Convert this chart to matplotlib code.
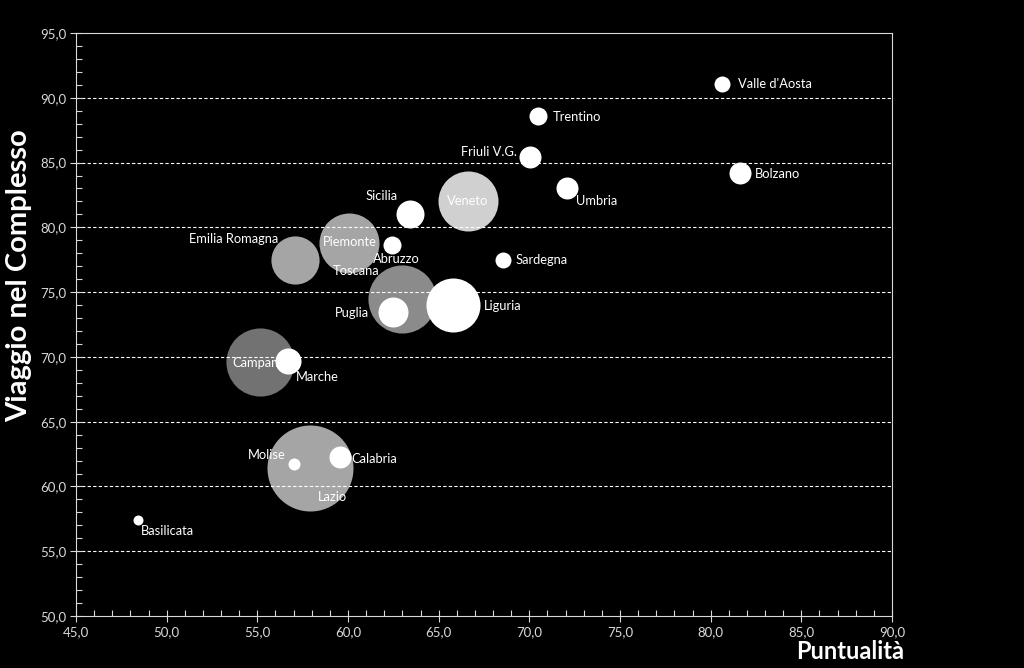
import matplotlib.pyplot as plt
from matplotlib.ticker import MultipleLocator, FuncFormatter

# dati
regioni = ["Lazio", "Campania", "Toscana", "Piemonte", "Veneto", "Liguria",
           "Emilia Romagna", "Puglia", "Sicilia", "Marche", "Friuli V.G.",
           "Bolzano", "Umbria", "Calabria", "Trentino", "Abruzzo",
           "Valle d'Aosta", "Sardegna", "Molise", "Basilicata"]
puntualita = [57.9, 55.15, 63.0, 60.05, 66.6, 65.8,
              57.1, 62.5, 63.4, 56.7, 70.05,
              81.6, 72.1, 59.55, 70.5, 62.4,
              80.6, 68.55, 57.0, 48.4]
viaggio = [61.4, 69.6, 74.5, 78.8, 82.0, 74.0,
           77.5, 73.5, 81.0, 69.7, 85.4,
           84.2, 83.0, 62.3, 88.6, 78.6,
           91.05, 77.5, 61.7, 57.4]
dimensione = [1850, 1160, 1160, 900, 900, 730,
              580, 225, 196, 170, 121,
              121, 121, 121, 81, 81,
              64, 64, 36, 25]
# trasparenza delle bolle (bianco su nero)
alfa = [0.65, 0.45, 0.55, 0.65, 0.82, 1,
        0.65, 1, 1, 1, 1,
        1, 1, 1, 1, 1,
        1, 1, 1, 1]

# posizione etichette: (dx, dy in pixel, allineamento)
etichette = {
    "Valle d'Aosta": (16, 0, "left"),
    "Trentino": (14, -1, "left"),
    "Friuli V.G.": (-13, 5, "right"),
    "Bolzano": (15, -1, "left"),
    "Umbria": (9, -13, "left"),
    "Veneto": (0, 0, "center"),
    "Sicilia": (-28, 18, "center"),
    "Piemonte": (1, 1, "center"),
    "Abruzzo": (5, -14, "center"),
    "Toscana": (-46, 28, "center"),
    "Emilia Romagna": (-17, 21, "right"),
    "Sardegna": (12, 0, "left"),
    "Liguria": (31, -1, "left"),
    "Puglia": (-24, -1, "right"),
    "Campania": (-28, -1, "left"),
    "Marche": (8, -16, "left"),
    "Lazio": (23, -29, "center"),
    "Molise": (-8, 9, "right"),
    "Calabria": (12, -2, "left"),
    "Basilicata": (3, -11, "left"),
}

plt.rcParams['font.family'] = ['Lato', 'DejaVu Sans']
fig = plt.figure(figsize=(10.24, 6.68), dpi=100, facecolor='black')
ax = fig.add_axes([0.0742, 0.0778, 0.7969, 0.8728])
ax.set_facecolor('black')

px = 0.72  # pixel -> punti
for i, r in enumerate(regioni):
    z = 3 + 2 * i
    ax.scatter(puntualita[i], viaggio[i], s=dimensione[i] * (2 * px) ** 2,
               color='white', alpha=alfa[i], linewidths=0, zorder=z)
    dx, dy, ha = etichette[r]
    ax.annotate(r, (puntualita[i], viaggio[i]), xytext=(dx * px, dy * px),
                textcoords='offset points', ha=ha, va='center',
                color='white', fontsize=9.3, zorder=z + 1)

ax.set_xlim(45, 90)
ax.set_ylim(50, 95)
ax.xaxis.set_major_locator(MultipleLocator(5))
ax.xaxis.set_minor_locator(MultipleLocator(1))
ax.yaxis.set_major_locator(MultipleLocator(5))
ax.yaxis.set_minor_locator(MultipleLocator(1))
fmt = FuncFormatter(lambda v, p: f"{v:.1f}".replace('.', ','))
ax.xaxis.set_major_formatter(fmt)
ax.yaxis.set_major_formatter(fmt)

for s in ax.spines.values():
    s.set_color('#d9d9d9')
    s.set_linewidth(0.8)
ax.tick_params(which='major', direction='inout', length=8, width=0.8,
               colors='#d9d9d9', labelsize=9.5, pad=3)
ax.tick_params(which='minor', direction='in', length=4, width=0.8,
               colors='#d9d9d9')
ax.tick_params(axis='both', which='both', top=False, right=False)

for g in range(55, 95, 5):
    ax.axhline(g, color='white', linewidth=0.8, linestyle=(0, (3, 2)), zorder=1)

fig.text(0.883, 0.008, "Puntualità", color='white', fontsize=17,
         fontweight='bold', ha='right', va='bottom')
fig.text(0.019, 0.587, "Viaggio nel Complesso", color='white', fontsize=21,
         fontweight='bold', rotation=90, ha='center', va='center')

plt.savefig('out.png', dpi=100, facecolor='black')
